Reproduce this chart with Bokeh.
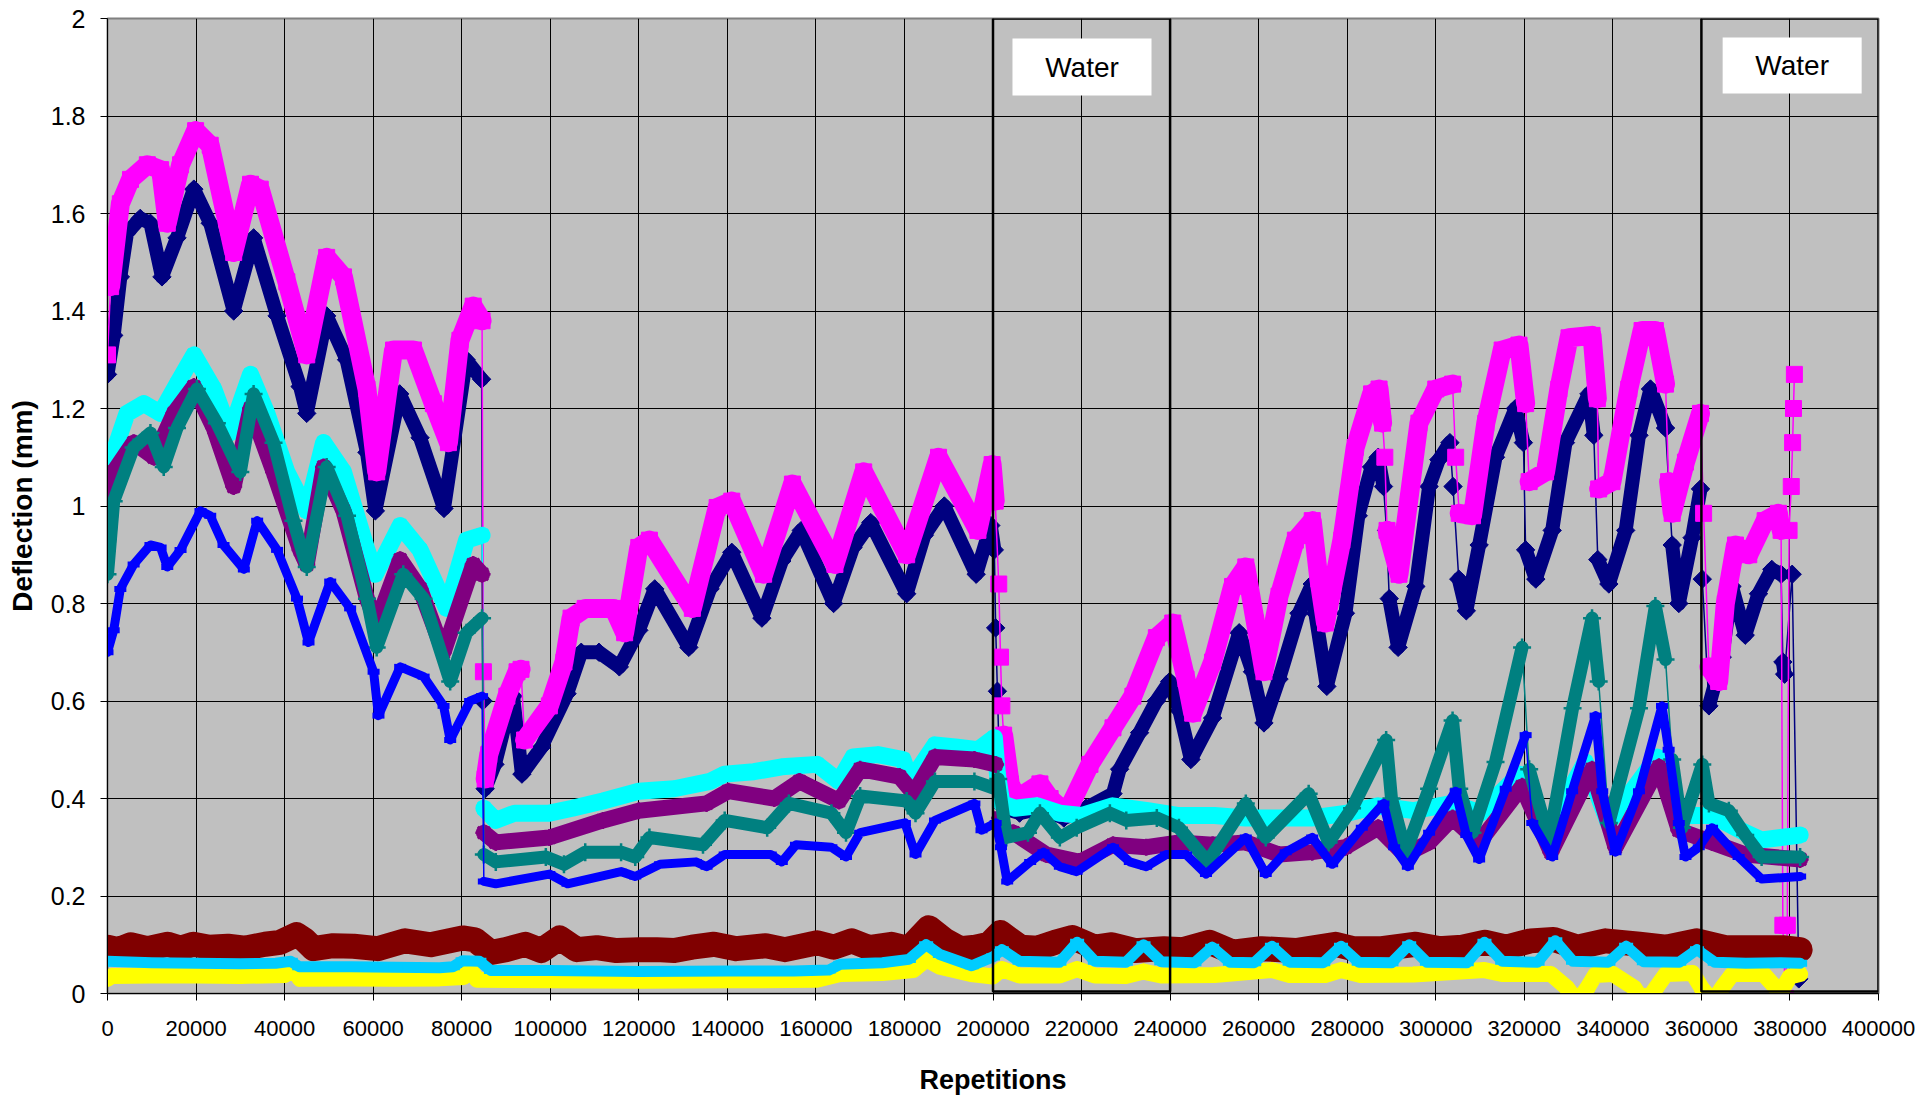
import numpy as np
from bokeh.plotting import figure
from bokeh.models import Range1d, FixedTicker, CustomJSTickFormatter, Label
from bokeh.embed import file_html
from bokeh.resources import INLINE

# ---------------- data (x in thousands of repetitions, y = deflection in mm) ----------------
navy_x = [0, 1.4, 2.9, 4.4, 7.4, 9.7, 12.3, 15.7, 19.5, 23.2, 28.5, 33.0, 38.3, 43.5, 45.0, 49.5, 54.0, 58.6, 60.5, 66.0,
          70.6, 76.0, 81.0, 84.5,
          84.8, 85.3,
          87.5, 90.0, 91.6, 93.6, 98.0, 103.8, 107.0, 111.0, 115.6, 120.0, 123.6, 131.3, 136.1, 141.0, 147.8, 152.3, 156.7,
          164.0, 168.4, 172.4, 180.5, 184.5, 189.0, 196.2, 199.5, 200.3,
          200.6, 201.0, 201.5, 202.5,
          206, 211, 216, 221, 227.1, 228.6, 233.1, 236.9, 239.9, 242.1, 244.7, 249.6, 255.6, 258.6, 261.2, 264.6, 269.1,
          272.1, 272.8, 275.4, 279.6, 282.5, 285.5, 287.0, 288.2, 288.9, 289.5, 291.5, 295.5, 298.5, 300.7, 303.2, 303.9,
          305.2, 306.9, 309.8, 313.5, 318.0, 319.8, 320.3, 322.6, 326.3, 329.3, 334.6, 335.7, 336.6, 339.1, 342.9, 345.9,
          348.5, 351.9, 353.4, 354.9, 357.9, 359.8, 360.2, 361.7, 364.7, 366.9, 369.9, 372.9, 375.9, 378.0, 378.4, 378.8,
          380.5, 382.0]
navy_y = [1.27, 1.35, 1.47, 1.56, 1.59, 1.58, 1.47, 1.55, 1.65, 1.58, 1.40, 1.55, 1.39, 1.245, 1.19, 1.39, 1.30, 1.11,
          0.99, 1.23, 1.14, 0.995, 1.30, 1.26,
          0.60, 0.42,
          0.47, 0.56, 0.61, 0.45, 0.505, 0.615, 0.70, 0.70, 0.67, 0.745, 0.83, 0.71, 0.83, 0.905, 0.77, 0.887, 0.95, 0.80,
          0.915, 0.966, 0.82, 0.94, 1.0, 0.86, 0.96, 0.91,
          0.75, 0.62, 0.45, 0.38,
          0.37, 0.38, 0.36, 0.38, 0.41, 0.46, 0.535, 0.60, 0.64, 0.58, 0.48, 0.565, 0.74, 0.66, 0.555, 0.645, 0.78, 0.84,
          0.78, 0.63, 0.78, 0.98, 1.08, 1.10, 1.04, 0.95, 0.81, 0.71, 0.835, 1.04, 1.095, 1.13, 1.04, 0.85, 0.785, 0.92,
          1.10, 1.20, 1.13, 0.91, 0.85, 0.95, 1.13, 1.23, 1.145, 0.89, 0.84, 0.95, 1.145, 1.24, 1.16, 0.92, 0.80, 0.935,
          1.035, 0.85, 0.59, 0.69, 0.835, 0.735, 0.82, 0.87, 0.86, 0.68, 0.655, 0.86, 0.03]

magenta_x = [0, 0.7, 2.9, 5.2, 9.0, 12.0, 13.5, 16.5, 19.9, 23.2, 28.5, 32.3, 34.5, 40.5, 45.0, 49.5, 53.3, 58.6, 60.8,
             64.6, 69.1, 73.6, 77.0, 79.6, 82.6, 84.6,
             84.9, 85.3,
             86.1, 90.2, 92.5, 93.4, 94.2, 99.8, 103.1, 104.7, 107.9, 114.3, 116.8, 120.0, 122.4, 132.1, 137.7, 141.0,
             148.2, 154.7, 164.3, 170.8, 180.5, 187.7, 196.6, 199.8, 200.5,
             201.3, 201.7, 202.0, 202.4, 203.9, 205.4,
             210.6, 212.9, 216.6, 221.9, 227.1, 231.6, 236.9, 240.6, 243.6, 245.1, 249.6, 254.1, 257.1, 259.3, 261.2,
             264.6, 268.3, 272.1, 273.6, 275.1, 278.8, 281.8, 285.5, 287.2, 288.0, 288.5, 289.0, 291.7, 296.2, 300.0,
             303.8, 304.5, 305.3, 308.3, 311.3, 315.0, 318.8, 320.3, 321.1, 324.8, 327.8, 330.1, 335.3, 336.5, 336.8,
             339.8, 343.6, 346.6, 349.6, 351.9, 352.6, 353.4, 356.4, 359.8, 360.5, 361.7, 363.9, 365.4, 367.7, 370.7,
             374.4, 377.4, 378.0, 378.4, 379.0, 379.4, 379.8, 380.3, 380.6, 380.8, 381.0]
magenta_y = [1.31, 1.45, 1.62, 1.67, 1.70, 1.69, 1.58, 1.70, 1.77, 1.74, 1.52, 1.66, 1.65, 1.46, 1.31, 1.51, 1.47, 1.24,
             1.07, 1.32, 1.32, 1.21, 1.13, 1.34, 1.41, 1.38,
             0.66, 0.44,
             0.49, 0.61, 0.66, 0.665, 0.52, 0.59, 0.68, 0.77, 0.79, 0.79, 0.74, 0.915, 0.93, 0.79, 0.997, 1.01, 0.86,
             1.045, 0.88, 1.07, 0.90, 1.10, 0.95, 1.085, 1.01,
             0.84, 0.69, 0.59, 0.53, 0.43, 0.40,
             0.43, 0.40, 0.37, 0.47, 0.545, 0.61, 0.73, 0.76, 0.645, 0.575, 0.68, 0.835, 0.875, 0.76, 0.66, 0.815, 0.93,
             0.97, 0.85, 0.76, 0.93, 1.12, 1.23, 1.24, 1.17, 1.10, 0.95, 0.86, 1.17, 1.24, 1.25, 1.10, 0.985, 0.98, 1.17,
             1.32, 1.33, 1.21, 1.05, 1.07, 1.24, 1.345, 1.35, 1.22, 1.035, 1.05, 1.24, 1.36, 1.36, 1.25, 1.05, 0.985,
             1.09, 1.19, 0.985, 0.67, 0.64, 0.80, 0.92, 0.90, 0.97, 0.985, 0.95, 0.14, -0.01, 0.14, 0.95, 1.04, 1.13,
             1.20, 1.27]

cyan_x = [0, 1.4, 4.4, 8.2, 12.0, 15.7, 19.5, 24.0, 27.7, 32.3, 36.0, 40.5, 45.0, 48.8, 53.3, 58.6, 60.5, 66.1, 70.6,
          76.6, 81.1, 84.6,
          85.0,
          87.7, 92, 99.8, 105, 111.9, 120, 128, 136.1, 139.4, 146, 152.3, 160.3, 165.2, 168.4, 174, 179.7, 181.3, 186.9,
          192, 196.6, 200.3,
          201.0, 202.0,
          205, 210, 215, 220, 227, 235, 242, 250, 257, 265, 272, 280, 287, 295, 303.8, 310, 319, 325, 333.8, 339, 350,
          355, 362.4, 369.9, 373.6, 382.3]
cyan_y = [0.98, 1.11, 1.19, 1.21, 1.19, 1.25, 1.31, 1.24, 1.15, 1.27, 1.19, 1.07, 0.99, 1.13, 1.07, 0.91, 0.86, 0.96,
          0.91, 0.79, 0.93, 0.94,
          0.38,
          0.355, 0.37, 0.37, 0.38, 0.395, 0.415, 0.42, 0.435, 0.45, 0.455, 0.465, 0.47, 0.435, 0.485, 0.49, 0.48, 0.435,
          0.51, 0.505, 0.50, 0.525,
          0.45, 0.39,
          0.38, 0.385, 0.37, 0.365, 0.385, 0.375, 0.365, 0.365, 0.36, 0.36, 0.36, 0.37, 0.385, 0.375, 0.39, 0.37, 0.45,
          0.33, 0.475, 0.35, 0.485, 0.365, 0.365, 0.33, 0.315, 0.325]

purple_x = [0, 1.4, 5.9, 10.5, 15.0, 19.5, 24.0, 28.5, 32.3, 37.5, 43.5, 45.0, 48.8, 53.3, 58.6, 60.8, 66.1, 70.6, 75.9,
            82.6, 84.6,
            85.0,
            87.7, 99.8, 111.9, 120.0, 135.3, 140.2, 150.6, 156.3, 165.2, 170.0, 178.9, 182.1, 186.9, 195.8, 200.6,
            201.5, 203,
            204.6, 212.1, 219.6, 227.1, 234.6, 242.1, 249.6, 257.1, 264.6, 272.1, 279.6, 287.0, 293.0, 298.5, 303.8,
            309.8, 319.5, 326.0, 335.3, 340.6, 350.4, 354.9, 362.4, 369.9, 382.3]
purple_y = [0.91, 1.07, 1.13, 1.10, 1.19, 1.245, 1.16, 1.04, 1.20, 1.07, 0.91, 0.88, 1.08, 0.99, 0.81, 0.76, 0.89, 0.83,
            0.70, 0.88, 0.86,
            0.33,
            0.31, 0.32, 0.355, 0.375, 0.39, 0.415, 0.40, 0.435, 0.395, 0.46, 0.445, 0.41, 0.485, 0.48, 0.47,
            0.36, 0.33,
            0.33, 0.285, 0.27, 0.305, 0.30, 0.31, 0.305, 0.31, 0.285, 0.29, 0.30, 0.34, 0.285, 0.31, 0.36, 0.31, 0.425,
            0.29, 0.46, 0.30, 0.465, 0.335, 0.31, 0.285, 0.275]

teal_x = [0, 1.4, 5.9, 9.7, 12.7, 15.7, 20.2, 24.7, 30.0, 33.0, 37.5, 42.0, 45.0, 49.5, 54.1, 58.6, 60.8, 66.8, 71.4,
          77.4, 81.1, 84.6,
          85.0,
          87.7, 99.0, 103.1, 107.9, 116.0, 119.2, 122.4, 134.5, 139.4, 149.0, 153.9, 163.5, 166.8, 170.0, 180.5, 182.5,
          186.9, 195.8, 200.6,
          201.2, 203.0, 207.9, 210.6, 215.1, 218.9, 226.4, 230.1, 237, 242, 248.5, 257.1, 261.6, 271.3, 275.8, 281.1,
          288.8, 290, 293.2, 298.5, 303.8, 305.3, 308.3, 313.5, 319.5, 321.1, 325.6, 330.9, 335.3, 336.8, 339.1, 345.9,
          349.6, 351.9, 353.4, 355.6, 360.2, 361.7, 366.2, 369.9, 373.6, 382.3]
teal_y = [0.86, 1.01, 1.12, 1.15, 1.08, 1.16, 1.24, 1.17, 1.07, 1.23, 1.13, 0.97, 0.875, 1.08, 0.98, 0.81, 0.71, 0.86,
          0.81, 0.64, 0.74, 0.77,
          0.285,
          0.27, 0.28, 0.265, 0.29, 0.29, 0.28, 0.32, 0.305, 0.355, 0.34, 0.39, 0.37, 0.33, 0.405, 0.395, 0.37, 0.435,
          0.435, 0.42,
          0.44, 0.32, 0.33, 0.37, 0.32, 0.34, 0.37, 0.355, 0.36, 0.34, 0.27, 0.39, 0.32, 0.41, 0.31, 0.38, 0.52, 0.40,
          0.29, 0.42, 0.56, 0.42, 0.33, 0.475, 0.71, 0.46, 0.315, 0.585, 0.77, 0.64, 0.35, 0.585, 0.795, 0.685, 0.48,
          0.34, 0.47, 0.39, 0.375, 0.325, 0.28, 0.28]

blue_x = [0, 1.4, 2.9, 5.9, 9.7, 12.0, 13.5, 16.5, 21.0, 23.2, 26.2, 30.8, 33.8, 38.3, 42.8, 45.4, 50.3, 54.8, 60.1,
          61.2, 66.1, 71.4, 75.9, 77.4, 81.9, 84.6,
          85.0,
          87.7, 99.8, 103.9, 116.0, 119.2, 124.8, 132.9, 135.3, 139.4, 149.8, 152.3, 155.5, 163.5, 166.8, 170.0, 180.1,
          182.5, 186.9, 195.8, 197.4, 200.6,
          201.8, 203.2, 208.4, 211.4, 215.1, 218.9, 227.1, 230.9, 234.6, 239.1, 243.6, 248.1, 257.1, 261.6, 266.1,
          272.1, 276.6, 283.3, 288.2, 290.6, 293.7, 298.5, 304.5, 306.9, 309.8, 315.8, 320.3, 321.8, 326.3, 330.8,
          336.1, 337.6, 340.6, 345.9, 351.1, 352.6, 354.9, 356.4, 359.4, 362.4, 368.4, 373.6, 382.3]
blue_y = [0.70, 0.745, 0.83, 0.88, 0.92, 0.915, 0.875, 0.91, 0.99, 0.98, 0.92, 0.87, 0.97, 0.91, 0.81, 0.72, 0.845, 0.79,
          0.66, 0.57, 0.67, 0.65, 0.59, 0.52, 0.60, 0.61,
          0.23,
          0.225, 0.245, 0.225, 0.25, 0.24, 0.265, 0.27, 0.26, 0.285, 0.285, 0.27, 0.305, 0.30, 0.28, 0.33, 0.35, 0.285,
          0.355, 0.39, 0.335, 0.35,
          0.30, 0.23, 0.27, 0.29, 0.26, 0.25, 0.30, 0.27, 0.26, 0.285, 0.285, 0.245, 0.32, 0.245, 0.29, 0.32, 0.265,
          0.34, 0.39, 0.30, 0.26, 0.33, 0.415, 0.325, 0.275, 0.42, 0.53, 0.35, 0.28, 0.415, 0.57, 0.415, 0.29, 0.415,
          0.59, 0.50, 0.35, 0.28, 0.30, 0.34, 0.28, 0.235, 0.24]

maroon_x = [0, 2.5, 5.2, 9, 13.6, 16.5, 19.4, 23, 27.2, 31, 35.6, 39, 42.7, 44.5, 46.5, 51, 55.6, 61, 67.2, 73, 80.2,
            83, 86.6, 90, 94.4, 98, 102.1, 106, 110.5, 115, 120.2, 124, 128, 132, 137, 142, 148.7, 153, 160.3, 164,
            168.1, 172, 177.1, 181, 185.5, 189, 192.6, 196, 199.1,
            201.7, 206.2, 210.1, 214.0, 217.9, 223.0, 226.9, 232.1, 238.6, 243, 248.9, 254.1, 260.6, 268.4, 277.4,
            281.3, 287.8, 295.5, 300.7, 306, 311.1, 316, 321.4, 326.6, 332, 338.3, 346.0, 352, 359.0, 365.4, 372,
            378.4, 382.3]
maroon_y = [0.095, 0.09, 0.10, 0.092, 0.101, 0.093, 0.101, 0.095, 0.097, 0.093, 0.101, 0.105, 0.121, 0.11, 0.092, 0.098,
            0.097, 0.092, 0.108, 0.1, 0.114, 0.11, 0.084, 0.09, 0.101, 0.088, 0.114, 0.09, 0.094, 0.088, 0.09, 0.09,
            0.088, 0.095, 0.101, 0.092, 0.098, 0.09, 0.104, 0.095, 0.108, 0.094, 0.101, 0.092, 0.135, 0.11, 0.092,
            0.095, 0.101,
            0.125, 0.095, 0.093, 0.105, 0.115, 0.095, 0.1, 0.088, 0.092, 0.09, 0.105, 0.085, 0.092, 0.088, 0.101,
            0.092, 0.092, 0.101, 0.092, 0.095, 0.105, 0.095, 0.108, 0.111, 0.095, 0.108, 0.101, 0.095, 0.108, 0.094,
            0.094, 0.094, 0.090]

sky_x = [0, 10, 20, 30, 38, 41.4, 43.3, 55, 65, 75, 78, 80.2, 84.0, 86.6, 100, 120, 140, 155, 162.9, 165.5, 175, 181,
         184.9, 188, 195.2, 200,
         202.0, 206, 215, 219, 223, 230, 234, 238, 245.5, 249.5, 253.5, 259, 263, 267, 274.6, 278.6, 282.6, 290, 294,
         298, 307, 311, 315, 323, 327, 331, 339, 343, 347, 355, 359, 363, 370, 378, 382.3]
sky_y = [0.066, 0.063, 0.062, 0.061, 0.062, 0.066, 0.055, 0.055, 0.054, 0.053, 0.055, 0.067, 0.066, 0.047, 0.047, 0.045,
         0.046, 0.046, 0.048, 0.06, 0.063, 0.07, 0.10, 0.08, 0.057, 0.075,
         0.09, 0.066, 0.064, 0.105, 0.066, 0.064, 0.10, 0.065, 0.063, 0.095, 0.064, 0.063, 0.097, 0.064, 0.063, 0.097,
         0.064, 0.063, 0.10, 0.064, 0.063, 0.105, 0.066, 0.064, 0.108, 0.066, 0.064, 0.097, 0.065, 0.064, 0.09, 0.064,
         0.062, 0.063, 0.062]

yellow_x = [0, 1, 10, 20, 30, 40, 42, 43.5, 55, 65, 75, 80.5, 82, 83.5, 100, 120, 140, 160, 165.5, 175, 182, 185, 188,
            195, 200,
            202.0, 206, 215, 219, 223, 230, 234, 238, 250, 263, 267, 275, 278.6, 283, 295, 311, 315, 326, 329.6, 331,
            333, 334.3, 336, 340, 344.8, 346, 348.5, 349.8, 352, 358, 360, 361.5, 363.5, 364.7, 367, 374, 376.8, 377.6,
            378.5, 380, 382.3]
yellow_y = [0.03, 0.036, 0.037, 0.037, 0.036, 0.038, 0.05, 0.03, 0.031, 0.03, 0.031, 0.034, 0.05, 0.028, 0.027, 0.026,
            0.027, 0.028, 0.04, 0.042, 0.048, 0.07, 0.055, 0.04, 0.035,
            0.05, 0.037, 0.037, 0.05, 0.037, 0.036, 0.045, 0.037, 0.038, 0.048, 0.038, 0.038, 0.048, 0.038, 0.039, 0.048,
            0.04, 0.04, 0.012, -0.005, -0.005, 0.012, 0.038, 0.04, 0.012, -0.005, -0.005, 0.012, 0.04, 0.042, 0.012,
            -0.005, -0.005, 0.012, 0.04, 0.04, 0.012, -0.008, 0.012, 0.035, 0.04]

x_ticks = list(range(0, 400001, 20000))
y_ticks = [0, 0.2, 0.4, 0.6, 0.8, 1, 1.2, 1.4, 1.6, 1.8, 2]
water_spans = [(200000, 240000), (360000, 400000)]
water_label_boxes = [(204400, 235800, 1.842, 1.959), (364800, 396200, 1.846, 1.961)]
water_text = "Water"

FONT = "Liberation Sans"

p = figure(width=1915, height=1102, output_backend="svg", toolbar_location=None,
           x_range=Range1d(0, 400000), y_range=Range1d(0, 2),
           min_border_left=107, min_border_right=37, min_border_top=18, min_border_bottom=109)
p.background_fill_color = "#C0C0C0"
p.border_fill_color = "white"
p.outline_line_color = "#808080"
p.outline_line_width = 2

p.xaxis.ticker = FixedTicker(ticks=x_ticks)
p.yaxis.ticker = FixedTicker(ticks=y_ticks)
p.xgrid.ticker = FixedTicker(ticks=x_ticks)
p.ygrid.ticker = FixedTicker(ticks=y_ticks)
for g in (p.xgrid, p.ygrid):
    g.grid_line_color = "black"
    g.grid_line_width = 1
p.xaxis.formatter = CustomJSTickFormatter(code="return tick.toFixed(0);")
p.yaxis.formatter = CustomJSTickFormatter(code="var s = tick.toFixed(1); return s.replace(/\\.0$/, '');")

for ax in (p.xaxis, p.yaxis):
    ax.axis_line_color = "black"
    ax.axis_line_width = 1
    ax.major_tick_line_color = "black"
    ax.major_tick_in = 0
    ax.major_tick_out = 7
    ax.minor_tick_line_color = None
    ax.major_label_text_font = FONT
    ax.axis_label_text_font = FONT
    ax.axis_label_text_font_style = "bold"
    ax.axis_label_text_color = "black"
    ax.major_label_text_color = "black"

p.xaxis.axis_label = "Repetitions"
p.xaxis.major_label_text_font_size = "22px"
p.xaxis.axis_label_text_font_size = "27px"
p.xaxis.major_label_standoff = 20
p.xaxis.axis_label_standoff = 26

p.yaxis.axis_label = "Deflection (mm)"
p.yaxis.major_label_text_font_size = "25px"
p.yaxis.axis_label_text_font_size = "28px"
p.yaxis.major_label_standoff = 15
p.yaxis.axis_label_standoff = 10


def band(xs, ys, thr=1.2e-4):
    """Same points as the series, with gaps where the series jumps steeply."""
    bx, by = [xs[0]], [ys[0]]
    for i in range(1, len(xs)):
        dx = max(xs[i] - xs[i - 1], 1.0)
        if abs(ys[i] - ys[i - 1]) / dx > thr:
            bx.append(np.nan)
            by.append(np.nan)
        bx.append(xs[i])
        by.append(ys[i])
    return bx, by


series = [
    # x, y, colour, band width, marker, size, marker line width, angle
    (navy_x, navy_y, "#000080", 14, "square", 13, 1, np.pi / 4),
    (magenta_x, magenta_y, "#FF00FF", 19, "square", 16, 1, 0),
    (yellow_x, yellow_y, "#FFFF00", 16, "triangle", 14, 1, 0),
    (cyan_x, cyan_y, "#00FFFF", 17, "x", 17, 2.5, 0),
    (purple_x, purple_y, "#800080", 16, "asterisk", 17, 2.5, 0),
    (maroon_x, maroon_y, "#800000", 25, "circle", 22, 1, 0),
    (teal_x, teal_y, "#008080", 13, "cross", 18, 2.5, 0),
    (blue_x, blue_y, "#0000FF", 9, "dash", 12, 6, 0),
    (sky_x, sky_y, "#00CCFF", 11, "dash", 14, 7, 0),
]

for xs_k, ys, col, bw, mk, sz, mlw, ang in series:
    assert len(xs_k) == len(ys), (col, len(xs_k), len(ys))
    xs = [v * 1000.0 for v in xs_k]
    bx, by = band(xs, ys)
    p.line(bx, by, line_width=bw, line_color=col, line_join="round", line_cap="round")
    p.line(xs, ys, line_width=1.5, line_color=col)
    p.scatter(xs, ys, marker=mk, size=sz, angle=ang, fill_color=col, line_color=col, line_width=mlw)

# water periods
for (l, r) in water_spans:
    p.quad(left=[l], right=[r], bottom=[0.004], top=[2.0], fill_alpha=0, line_color="black", line_width=2.5)
for (l, r, b, t) in water_label_boxes:
    p.quad(left=[l], right=[r], bottom=[b], top=[t], fill_color="white", line_color=None)
    p.add_layout(Label(x=(l + r) / 2, y=(b + t) / 2, text=water_text, text_align="center",
                       text_baseline="middle", text_font=FONT, text_font_size="28px", text_color="black"))

open("out.html", "w").write(file_html(p, INLINE))
